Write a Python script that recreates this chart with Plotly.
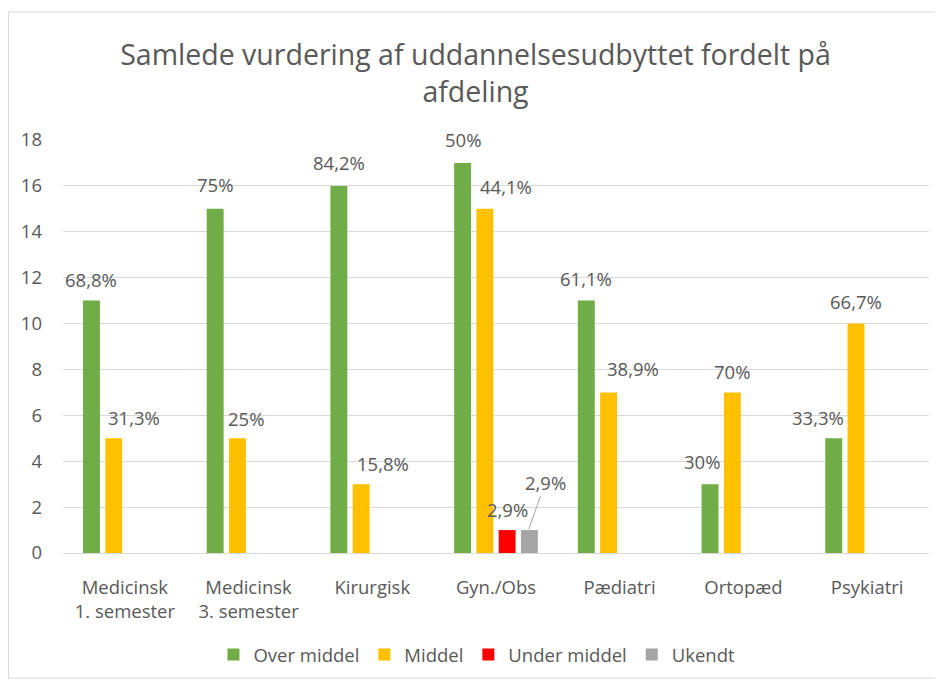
import plotly.graph_objects as go

categories = ["Medicinsk<br>1. semester", "Medicinsk<br>3. semester", "Kirurgisk",
              "Gyn./Obs", "Pædiatri", "Ortopæd", "Psykiatri"]
series_names = ["Over middel", "Middel", "Under middel", "Ukendt"]
over_middel = [11, 15, 16, 17, 11, 3, 5]
middel = [5, 5, 3, 15, 7, 7, 10]
under_middel = [0, 0, 0, 1, 0, 0, 0]
ukendt = [0, 0, 0, 1, 0, 0, 0]
over_pct = ["68,8%", "75%", "84,2%", "50%", "61,1%", "30%", "33,3%"]
middel_pct = ["31,3%", "25%", "15,8%", "44,1%", "38,9%", "70%", "66,7%"]
under_pct = ["", "", "", "2,9%", "", "", ""]
ukendt_pct = ["", "", "", "2,9%", "", "", ""]
y_ticks = [0, 2, 4, 6, 8, 10, 12, 14, 16, 18]

# styling (kept separate from data)
colors = ["#70AD47", "#FFC000", "#FF0000", "#A5A5A5"]
TXT = "#595959"
GRID = "#D9D9D9"
FONT = "Open Sans"
FS = 18.5
# label nudges (pixels): (dx, dy) per series per category
nudges = [
    [(0, 21), (0, 24), (0, 23), (0, 23), (0, 22), (-8, 23), (-16, 21)],
    [(20, 21), (9, 20), (22, 21), (21, 22), (24, 24), (0, 21), (0, 22)],
    [(0, 21)] * 7,
    [(0, 0)] * 7,
]
PITCH = 22.3

values = [over_middel, middel, under_middel, ukendt]
labels = [over_pct, middel_pct, under_pct, ukendt_pct]

fig = go.Figure()
for name, vals, col in zip(series_names, values, colors):
    fig.add_trace(go.Bar(x=categories, y=vals, name=name,
                         marker=dict(color=col, line=dict(width=0))))

annotations = []
for i, (vals, labs) in enumerate(zip(values, labels)):
    for j, (cat, v, lab) in enumerate(zip(categories, vals, labs)):
        if not lab:
            continue
        base_shift = (i - 1.5) * PITCH
        if i == 3:
            annotations.append(dict(
                x=cat, y=v, xref="x", yref="y", text=lab,
                xshift=base_shift - 1, showarrow=True, arrowhead=0,
                arrowwidth=1, arrowcolor="#A6A6A6", ax=17, ay=-48,
                standoff=1, font=dict(family=FONT, size=FS, color=TXT)))
        else:
            dx, dy = nudges[i][j]
            annotations.append(dict(
                x=cat, y=v, xref="x", yref="y", text=lab,
                xshift=base_shift + dx, yshift=dy, showarrow=False,
                yanchor="middle", xanchor="center",
                font=dict(family=FONT, size=FS, color=TXT)))

# the page body adds an 8px offset, so the figure is sized to fit the window
W, H = 935, 674
fig.update_layout(
    width=W, height=H,
    paper_bgcolor="white", plot_bgcolor="white",
    margin=dict(l=55, r=14, t=132, b=129, autoexpand=False),
    barmode="group", bargap=0.28, bargroupgap=0.24,
    font=dict(family=FONT, size=FS, color=TXT),
    title=dict(text="Samlede vurdering af uddannelsesudbyttet fordelt på<br>afdeling",
               x=0.5, xanchor="center", xref="container",
               y=1 - 57 / H, yanchor="top", yref="container",
               font=dict(family=FONT, size=28.5, color=TXT)),
    legend=dict(orientation="h", x=0.478, xanchor="center", y=-0.247, yanchor="middle",
                font=dict(family=FONT, size=FS, color=TXT), traceorder="normal",
                itemwidth=30),
    annotations=annotations,
    shapes=[dict(type="rect", xref="paper", yref="paper",
                 x0=-0.0629, x1=1.0104, y0=-0.303, y1=1.31,
                 line=dict(color=GRID, width=1), layer="below")],
    showlegend=True,
)
fig.update_yaxes(range=[0, 18], tickvals=y_ticks, gridcolor=GRID, gridwidth=1,
                 showline=False, zeroline=False, ticks="", ticklabelstandoff=20,
                 automargin=False,
                 tickfont=dict(family=FONT, size=FS, color=TXT))
fig.update_xaxes(showline=True, linecolor=GRID, linewidth=1, ticks="",
                 ticklabelstandoff=18, automargin=False,
                 tickfont=dict(family=FONT, size=FS, color=TXT))

fig.write_html("out.html")
